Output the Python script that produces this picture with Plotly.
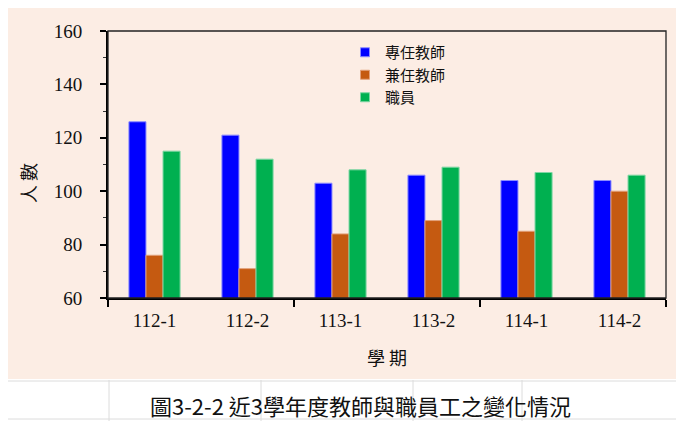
import plotly.graph_objects as go

# 學期與人數
semesters = ["112-1", "112-2", "113-1", "113-2", "114-1", "114-2"]
full_time = [126, 121, 103, 106, 104, 104]   # 專任教師
part_time = [76, 71, 84, 89, 85, 100]        # 兼任教師
staff = [115, 112, 108, 109, 107, 106]       # 職員

series_names = ["專任教師", "兼任教師", "職員"]
series_colors = ["#0000FF", "#C55A11", "#00B050"]
edge_colors = ["#8C8CFF", "#E2A07A", "#7FD6A4"]

W, H = 684, 421
OFF = 8  # the page body margin shifts the figure by this much
L, R, T, B = 108 - OFF, 666 - OFF, 31 - OFF, 298 - OFF  # plot area
PEACH = "#FCEDE4"
GRID = "#DCDCDC"


# screen pixel -> paper coordinate
def px(x):
    return (x - OFF - L) / (R - L)


def py(y):
    return (B - (y - OFF)) / (B - T)


pos = list(range(len(semesters)))
fig = go.Figure()
for name, vals, col, edge in zip(series_names, [full_time, part_time, staff],
                                 series_colors, edge_colors):
    fig.add_trace(go.Bar(x=pos, y=vals, name=name, showlegend=False,
                         legendgroup=name,
                         marker=dict(color=col, line=dict(color=edge, width=1))))
    # small square swatch for the legend
    fig.add_trace(go.Scatter(x=[None], y=[None], mode="markers", name=name,
                             legendgroup=name,
                             marker=dict(symbol="square", size=9, color=col,
                                         line=dict(color=edge, width=1))))

shapes = []
# chart area background
shapes.append(dict(type="rect", xref="paper", yref="paper", layer="below",
                   x0=px(1), x1=px(679), y0=py(379), y1=py(3),
                   fillcolor=PEACH, line=dict(width=0)))
# spreadsheet cell lines around the chart
for yy in [381, 419]:
    shapes.append(dict(type="line", xref="paper", yref="paper",
                       x0=px(0), x1=px(W), y0=py(yy), y1=py(yy),
                       line=dict(color=GRID, width=1)))
for xx in [109, 261, 413, 522]:
    shapes.append(dict(type="line", xref="paper", yref="paper",
                       x0=px(xx), x1=px(xx), y0=py(380), y1=py(H),
                       line=dict(color=GRID, width=1)))
shapes.append(dict(type="line", xref="paper", yref="paper",
                   x0=px(681.5), x1=px(681.5), y0=py(0), y1=py(H),
                   line=dict(color=GRID, width=1)))
yy = 47
while yy < 379:
    shapes.append(dict(type="line", xref="paper", yref="paper",
                       x0=px(679), x1=px(W), y0=py(yy), y1=py(yy),
                       line=dict(color=GRID, width=1)))
    yy += 22.3
# plot area frame
shapes.append(dict(type="rect", xref="paper", yref="paper",
                   x0=0, x1=1, y0=0, y1=1,
                   line=dict(color="#222222", width=1.3)))

annotations = [
    dict(text="學 期", x=px(387), y=py(357), xref="paper", yref="paper",
         xanchor="center", yanchor="middle", showarrow=False,
         font=dict(size=18, color="#111111")),
    dict(text="人 數", x=px(28), y=py(183), xref="paper", yref="paper",
         xanchor="center", yanchor="middle", showarrow=False, textangle=-90,
         font=dict(size=18, color="#111111")),
    dict(text="圖3-2-2 近3學年度教師與職員工之變化情況", x=px(360), y=py(405),
         xref="paper", yref="paper", xanchor="center", yanchor="middle",
         showarrow=False, font=dict(size=22, color="#111111")),
]

fig.update_layout(
    width=W, height=H,
    margin=dict(l=L, r=W - R, t=T, b=H - B),
    paper_bgcolor="white",
    plot_bgcolor=PEACH,
    font=dict(family="Noto Sans CJK TC", color="#111111"),
    barmode="group", bargap=0.45, bargroupgap=0,
    legend=dict(x=px(345), y=py(36), xanchor="left", yanchor="top",
                bgcolor="rgba(0,0,0,0)", font=dict(size=15),
                traceorder="grouped", tracegroupgap=0,
                itemwidth=30),
    shapes=shapes,
    annotations=annotations,
    xaxis=dict(
        range=[-0.5, len(semesters) - 0.5],
        tickmode="array", tickvals=pos, ticktext=semesters,
        ticks="", showgrid=False, zeroline=False,
        showline=True, linecolor="black", linewidth=2,
        tickfont=dict(family="Liberation Serif", size=19, color="#111111"),
        ticklabelstandoff=4,
        minor=dict(tickmode="array", tickvals=[-0.5, 1.5, 3.5, 5.5],
                   ticks="outside", ticklen=7, tickwidth=1.5,
                   tickcolor="black", showgrid=False),
    ),
    yaxis=dict(
        range=[60, 160], dtick=20, tick0=60,
        ticks="outside", ticklen=6, tickwidth=1.5, tickcolor="black",
        showgrid=False, zeroline=False,
        showline=True, linecolor="black", linewidth=2,
        tickfont=dict(family="Liberation Serif", size=19, color="#111111"),
        ticklabelstandoff=14,
        minor=dict(dtick=10, ticks="outside", ticklen=3, tickwidth=1.2,
                   tickcolor="#333333", showgrid=False),
    ),
)

fig.write_html("out.html")
